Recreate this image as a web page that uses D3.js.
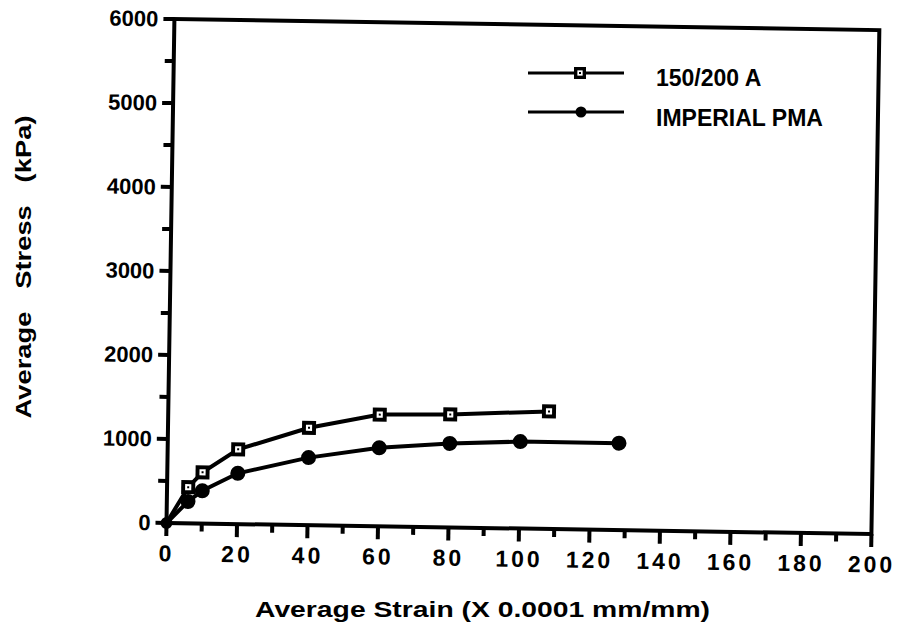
<!DOCTYPE html>
<html>
<head>
<meta charset="utf-8">
<script src="https://cdn.jsdelivr.net/npm/d3@7"></script>
<style>
  body { margin: 0; background: #fff; }
  svg text { font-family: "Liberation Sans", Arial, sans-serif; font-weight: bold; fill: #000; }
</style>
</head>
<body>
<svg id="chart"></svg>
<script>
// data
const strainA = [0, 6, 10, 20, 40, 60, 80, 108];
const stressA = [0, 430, 610, 890, 1160, 1330, 1345, 1400];
const strainB = [0, 6, 10, 20, 40, 60, 80, 100, 128];
const stressB = [0, 260, 390, 605, 805, 935, 1000, 1035, 1035];
const seriesNames = ["150/200 A", "IMPERIAL PMA"];
const xTicks = [0, 20, 40, 60, 80, 100, 120, 140, 160, 180, 200];
const yTicks = [0, 1000, 2000, 3000, 4000, 5000, 6000];
const xMinor = [10, 30, 50, 70, 90, 110, 130, 150, 170, 190];
const yMinor = [500, 1500, 2500, 3500, 4500, 5500];

const width = 898, height = 635;
const svg = d3.select("#chart").attr("width", width).attr("height", height);

// plot origin and size (the scan is tilted slightly, so the plot group is rotated)
const ox = 166.5, oy = 523, pw = 705, ph = 504;
const plot = svg.append("g")
  .attr("transform", `rotate(0.9, ${ox}, ${oy}) translate(${ox}, ${oy - ph})`);

const x = d3.scaleLinear().domain([0, 200]).range([0, pw]);
const y = d3.scaleLinear().domain([0, 6000]).range([ph, 0]);

// frame
plot.append("rect")
  .attr("width", pw).attr("height", ph)
  .attr("fill", "none").attr("stroke", "#000").attr("stroke-width", 4);

// tick marks
const tickG = plot.append("g").attr("fill", "#000");
xTicks.forEach(d => tickG.append("rect").attr("x", x(d) - 2).attr("y", ph).attr("width", 4).attr("height", 13));
xMinor.forEach(d => tickG.append("rect").attr("x", x(d) - 2).attr("y", ph).attr("width", 4).attr("height", 8));
yTicks.forEach(d => tickG.append("rect").attr("x", -11).attr("y", y(d) - 2).attr("width", 11).attr("height", 4));
yMinor.forEach(d => tickG.append("rect").attr("x", -9).attr("y", y(d) - 2).attr("width", 9).attr("height", 4));

// tick labels through d3 axes
plot.append("g").attr("transform", `translate(0, ${ph})`)
  .call(d3.axisBottom(x).tickValues(xTicks).tickSize(0).tickPadding(21).tickFormat(d3.format("d")))
  .call(g => g.selectAll(".domain, line").remove())
  .call(g => g.selectAll("text").attr("font-size", 23).attr("letter-spacing", 3)
    .attr("font-family", null).attr("dy", "0.75em"));
plot.append("g")
  .call(d3.axisLeft(y).tickValues(yTicks).tickSize(0).tickPadding(16).tickFormat(d3.format("d")))
  .call(g => g.selectAll(".domain, line").remove())
  .call(g => g.selectAll("text").attr("font-size", 22).attr("font-family", null));

// series lines
const line = d3.line().x(d => x(d[0])).y(d => y(d[1]));
const ptsA = strainA.map((s, i) => [s, stressA[i]]);
const ptsB = strainB.map((s, i) => [s, stressB[i]]);

plot.append("path").datum(ptsB).attr("d", line)
  .attr("fill", "none").attr("stroke", "#000").attr("stroke-width", 4);
plot.append("path").datum(ptsA).attr("d", line)
  .attr("fill", "none").attr("stroke", "#000").attr("stroke-width", 4);

// markers
plot.selectAll(".ptB").data(ptsB.slice(1)).enter().append("circle")
  .attr("cx", d => x(d[0])).attr("cy", d => y(d[1])).attr("r", 7.5).attr("fill", "#000");

function squareMark(g, cx, cy, s) {
  g.append("rect").attr("x", cx - s / 2).attr("y", cy - s / 2).attr("width", s).attr("height", s).attr("fill", "#000");
  g.append("rect").attr("x", cx - s * 0.22).attr("y", cy - s * 0.22).attr("width", s * 0.44).attr("height", s * 0.44)
    .attr("fill", "#fff");
  g.append("rect").attr("x", cx - 1).attr("y", cy - 1).attr("width", 2).attr("height", 2).attr("fill", "#000");
}
ptsA.slice(1).forEach(d => squareMark(plot, x(d[0]), y(d[1]), 14));
// origin point where both series overlap
plot.append("circle").attr("cx", x(0)).attr("cy", y(0)).attr("r", 6).attr("fill", "#000");

// legend (not tilted in the scan)
const legend = svg.append("g");
legend.append("line").attr("x1", 528).attr("x2", 624).attr("y1", 73).attr("y2", 73)
  .attr("stroke", "#000").attr("stroke-width", 3);
squareMark(legend, 580, 73, 12);
legend.append("text").attr("x", 656).attr("y", 86).attr("font-size", 23).text(seriesNames[0]);

legend.append("line").attr("x1", 528).attr("x2", 624).attr("y1", 112).attr("y2", 112)
  .attr("stroke", "#000").attr("stroke-width", 3);
legend.append("circle").attr("cx", 581).attr("cy", 112).attr("r", 5.5).attr("fill", "#000");
legend.append("text").attr("x", 656).attr("y", 126).attr("font-size", 23).text(seriesNames[1]);

// axis titles
svg.append("text")
  .attr("x", 255).attr("y", 617).attr("font-size", 22)
  .attr("textLength", 455).attr("lengthAdjust", "spacingAndGlyphs")
  .text("Average Strain (X 0.0001 mm/mm)");

svg.append("text")
  .attr("transform", "translate(31, 267) rotate(-90)")
  .attr("text-anchor", "middle").attr("font-size", 22)
  .attr("textLength", 303).attr("lengthAdjust", "spacingAndGlyphs")
  .style("white-space", "pre")
  .text("Average   Stress   (kPa)");
</script>
</body>
</html>
